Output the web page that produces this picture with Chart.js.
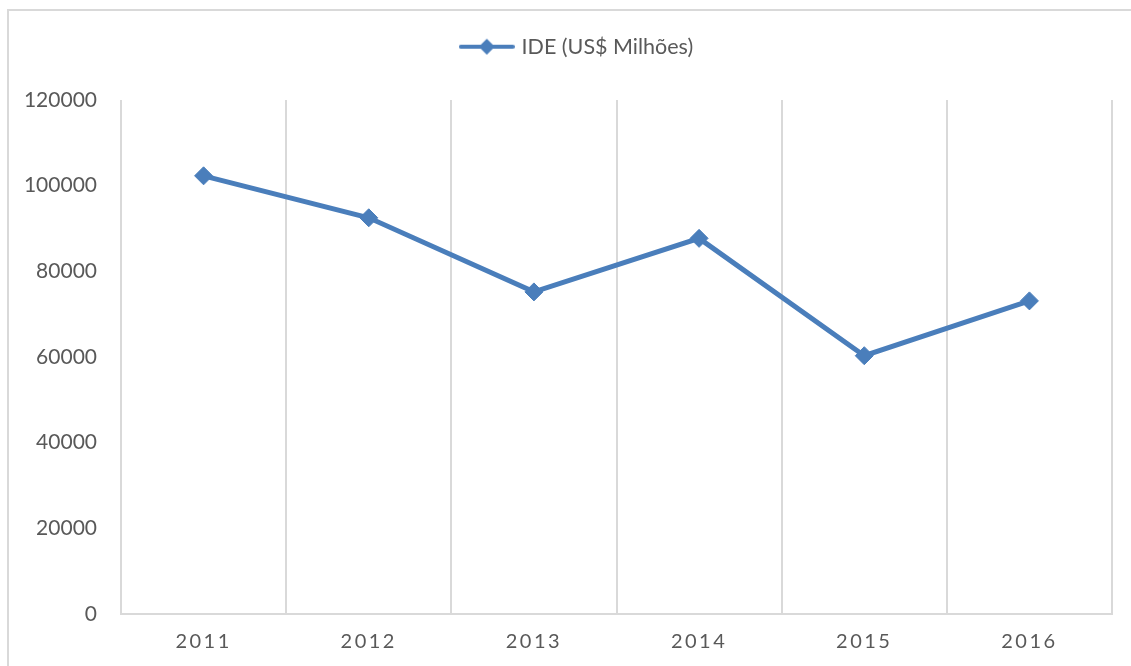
<!DOCTYPE html>
<html>
<head>
<meta charset="utf-8">
<script src="https://cdn.jsdelivr.net/npm/chart.js@4"></script>
<style>
  html, body { margin: 0; padding: 0; background: #fff; overflow: hidden; }
  #wrap { position: relative; width: 1131px; height: 666px; }
  #frame {
    position: absolute; left: 7px; top: 9px;
    width: 1200px; height: 700px;
    border: 2px solid #d9d9d9;
    pointer-events: none;
  }
</style>
</head>
<body>
<div id="wrap">
  <canvas id="ideChart" width="1131" height="666"></canvas>
  <div id="frame"></div>
</div>
<script>
// Data
const years = ['2011', '2012', '2013', '2014', '2015', '2016'];
const ideValues = [102300, 92500, 75200, 87700, 60300, 73100];
const seriesLabel = 'IDE (US$ Milhões)';
const yTicks = [0, 20000, 40000, 60000, 80000, 100000, 120000];

const lineColor = '#4a7ebb';
const gridColor = '#d9d9d9';
const textColor = '#595959';
const fontFamily = 'Lato, "Open Sans", sans-serif';

// Legend marker: line with a diamond in the middle
function makeLegendMarker() {
    const c = document.createElement('canvas');
    c.width = 56;
    c.height = 18;
    const g = c.getContext('2d');
    g.strokeStyle = lineColor;
    g.lineWidth = 4;
    g.lineCap = 'round';
    g.beginPath();
    g.moveTo(2, 9);
    g.lineTo(54, 9);
    g.stroke();
    g.fillStyle = lineColor;
    g.beginPath();
    g.moveTo(28, 1);
    g.lineTo(36, 9);
    g.lineTo(28, 17);
    g.lineTo(20, 9);
    g.closePath();
    g.fill();
    return c;
}

// Legend size/position + letter spacing for the x labels (drawn after datasets via ticks.z)
const spacingPlugin = {
    id: 'xSpacing',
    afterInit(chart) {
        const fit = chart.legend.fit;
        chart.legend.fit = function() {
            fit.call(this);
            this.height = 90;
        };
    },
    afterLayout(chart) {
        // centre the legend on the whole frame, not on the canvas minus padding
        chart.legend.left += 22;
        chart.legend.right += 22;
    },
    afterDatasetsDraw(chart) {
        chart.ctx.letterSpacing = '2.5px';
    },
    afterDraw(chart) {
        chart.ctx.letterSpacing = '0px';
    }
};

const marker = makeLegendMarker();

new Chart(document.getElementById('ideChart'), {
    type: 'line',
    data: {
        labels: years,
        datasets: [{
            label: seriesLabel,
            data: ideValues,
            borderColor: lineColor,
            backgroundColor: lineColor,
            borderWidth: 5,
            pointStyle: 'rectRot',
            pointRadius: 9,
            pointBorderWidth: 1,
            tension: 0,
            fill: false
        }]
    },
    options: {
        responsive: false,
        animation: false,
        layout: { padding: { top: 10, right: 19, bottom: 0, left: 0 } },
        plugins: {
            tooltip: { enabled: false },
            legend: {
                position: 'top',
                labels: {
                    color: textColor,
                    font: { family: fontFamily, size: 21.5 },
                    padding: 26,
                    usePointStyle: true,
                    pointStyleWidth: 48,
                    generateLabels: function(chart) {
                        return [{
                            text: seriesLabel,
                            pointStyle: marker,
                            fillStyle: lineColor,
                            strokeStyle: lineColor,
                            lineWidth: 0,
                            fontColor: textColor,
                            datasetIndex: 0
                        }];
                    }
                }
            }
        },
        scales: {
            x: {
                offset: true,
                afterFit: function(scale) {
                    scale.height = 52;
                },
                grid: { display: true, offset: true, color: gridColor, lineWidth: 2, drawTicks: false },
                border: { display: true, color: gridColor, width: 2 },
                ticks: { color: textColor, font: { family: fontFamily, size: 20 }, padding: 16, z: 1 }
            },
            y: {
                min: 0,
                max: 120000,
                afterBuildTicks: function(scale) {
                    scale.ticks = yTicks.map(v => ({ value: v }));
                },
                afterFit: function(scale) {
                    scale.width = 121;
                },
                grid: { display: false, drawTicks: false },
                border: { display: false },
                ticks: {
                    color: textColor,
                    font: { family: fontFamily, size: 21 },
                    padding: 24,
                    callback: function(value) {
                        return String(value);
                    }
                }
            }
        }
    },
    plugins: [spacingPlugin]
});
</script>
</body>
</html>
